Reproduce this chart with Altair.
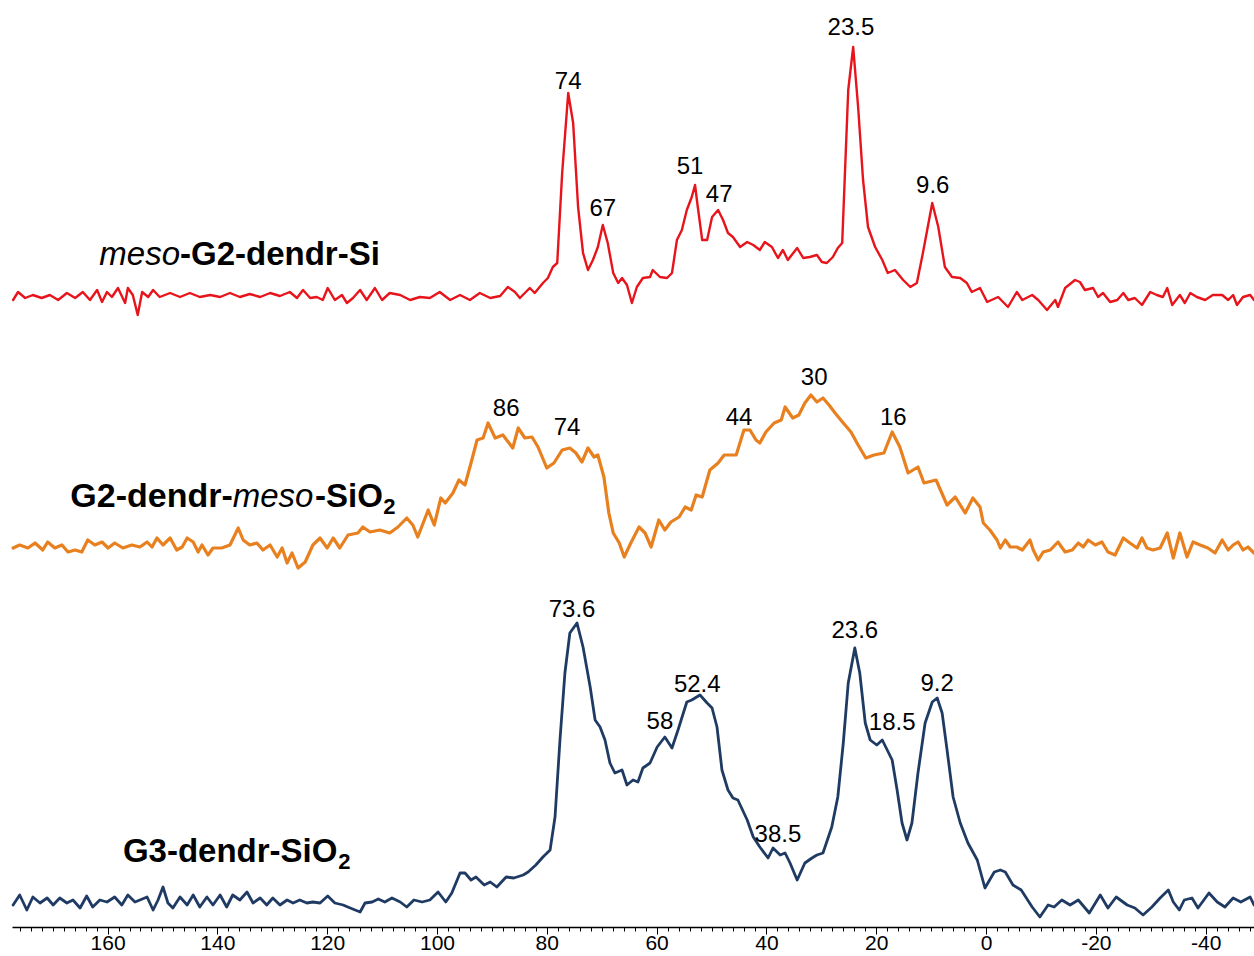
import altair as alt
import pandas as pd

# ---------------- data ----------------
# chemical shift (ppm) and intensity above each trace's own baseline (arb. units)

red_ppm = [
    177.2, 176.3, 175.0, 173.6, 172.0, 170.5, 169.0, 167.4, 165.9, 164.5,
    163.2, 161.9, 161.0, 160.1, 159.2, 158.1, 156.8, 156.3, 155.4, 154.5,
    153.7, 152.6, 151.7, 150.5, 148.6, 146.8, 145.0, 143.2, 141.3, 139.5,
    137.7, 135.9, 134.1, 132.2, 130.4, 128.6, 126.8, 125.5, 124.4, 123.1,
    121.9, 120.8, 119.9, 118.6, 117.3, 116.4, 115.3, 114.0, 112.8, 111.3,
    110.0, 108.6, 106.7, 104.9, 103.1, 101.3, 99.5, 97.6, 95.8, 94.0,
    92.2, 90.3, 88.5, 87.1, 85.8, 84.9, 83.1, 82.2, 80.7, 79.8,
    78.9, 78.1, 77.2, 76.1, 75.2, 74.3, 73.4, 72.5, 71.6, 70.7,
    69.8, 68.9, 67.9, 67.0, 66.3, 65.4, 64.5, 63.6, 62.5, 61.2,
    60.7, 59.4, 58.1, 57.2, 56.3, 55.4, 54.5, 53.6, 53.0, 52.5,
    51.7, 50.8, 49.9, 48.8, 47.9, 47.0, 46.1, 44.8, 43.5, 42.4,
    41.2, 40.3, 39.0, 37.9, 37.0, 36.1, 34.4, 33.3, 32.1, 30.8,
    29.9, 29.0, 27.9, 27.0, 26.2, 25.7, 25.1, 24.2, 23.3, 22.4,
    21.5, 20.2, 18.9, 17.9, 16.6, 15.1, 13.8, 12.6, 11.5, 9.8,
    8.7, 7.5, 6.2, 4.7, 3.5, 2.6, 1.1, -0.2, -2.2, -4.0,
    -5.6, -6.6, -8.4, -9.5, -11.1, -12.6, -13.1, -14.4, -16.2, -17.1,
    -18.0, -19.5, -20.4, -21.3, -22.6, -23.9, -25.0, -25.9, -27.1, -28.4,
    -29.9, -31.1, -32.2, -33.0, -33.9, -35.3, -36.2, -37.2, -38.4, -39.9,
    -41.3, -43.0, -44.1, -45.0, -45.7, -46.8, -48.1, -48.8,
]
red_int = [
    -3, 5, -1, 2, -1, 2, -3, 4, -1, 5,
    -3, 7, -5, 5, 0, 9, -6, 9, 2, -18,
    5, 0, 7, 0, 4, 0, 4, 0, 2, 0,
    4, 0, 3, 0, 4, 1, 5, -1, 7, -1,
    0, -3, 9, -3, 2, -6, -1, 7, -3, 9,
    -3, 4, 2, -3, 0, -1, 5, -3, 2, -3,
    4, -1, 1, 10, 5, -1, 9, 4, 14, 19,
    30, 34, 124, 204, 174, 90, 44, 27, 37, 50,
    72, 54, 24, 14, 19, 12, -6, 10, 19, 20,
    27, 20, 19, 24, 57, 67, 87, 100, 112, 90,
    57, 57, 80, 87, 77, 64, 60, 50, 55, 52,
    47, 55, 50, 39, 47, 37, 49, 39, 40, 42,
    35, 34, 40, 49, 54, 124, 207, 250, 190, 117,
    70, 50, 37, 24, 27, 17, 10, 14, 44, 94,
    70, 30, 20, 19, 14, 5, 9, -5, 0, -10,
    5, -3, 2, -3, -13, -3, -10, 9, 17, 15,
    7, 9, 0, 4, -5, -3, 4, -3, -1, -8,
    5, 2, 0, 9, -8, 2, -6, 4, 0, -3,
    2, 2, -3, 2, -8, 0, 2, -3,
]

orange_ppm = [
    177.2, 176.0, 174.5, 173.2, 171.8, 170.9, 169.6, 168.3, 167.2, 165.9,
    164.7, 163.6, 162.3, 161.0, 159.9, 158.7, 157.2, 155.6, 154.1, 152.8,
    151.9, 151.0, 149.9, 148.6, 147.4, 146.4, 145.5, 144.4, 143.5, 142.8,
    141.7, 140.8, 139.2, 137.7, 136.2, 135.3, 134.1, 132.8, 131.7, 130.4,
    129.1, 128.2, 127.3, 126.4, 125.3, 124.0, 122.6, 121.3, 120.0, 118.9,
    117.7, 116.2, 114.4, 113.5, 112.2, 110.4, 108.6, 107.1, 105.5, 104.4,
    103.5, 101.6, 100.5, 99.3, 98.5, 97.1, 96.0, 94.9, 93.8, 92.7,
    91.6, 90.7, 89.4, 88.0, 86.2, 85.2, 84.0, 82.7, 81.6, 80.0,
    78.7, 77.2, 75.8, 74.7, 73.6, 72.5, 71.4, 70.7, 69.6, 68.7,
    67.9, 66.8, 65.9, 64.7, 63.2, 62.1, 61.0, 59.6, 58.5, 57.4,
    55.9, 54.8, 53.7, 52.8, 51.7, 50.3, 48.8, 47.7, 45.5, 44.1,
    43.0, 41.9, 41.2, 40.1, 38.6, 37.3, 36.6, 35.2, 34.1, 33.0,
    31.9, 30.8, 29.7, 28.6, 27.5, 26.0, 24.6, 23.3, 21.9, 20.4,
    18.6, 17.1, 15.7, 14.2, 12.4, 11.3, 9.1, 7.1, 5.6, 3.8,
    2.4, 1.1, 0.5, -0.7, -2.0, -2.6, -3.5, -4.4, -5.6, -6.6,
    -8.0, -8.6, -9.5, -10.4, -11.7, -13.1, -14.4, -15.7, -16.8, -17.7,
    -18.6, -19.9, -21.1, -22.2, -23.5, -25.0, -26.2, -27.5, -28.4, -29.3,
    -30.4, -31.7, -33.0, -34.1, -35.3, -36.6, -37.7, -39.0, -40.4, -41.7,
    -43.0, -44.1, -45.0, -45.9, -46.8, -47.7, -48.8,
]
orange_int = [
    -3, 0, -3, 2, -5, 3, -3, 0, -7, -5,
    -7, 5, 0, 3, -3, 2, -3, 0, -2, 3,
    -2, 7, 0, 7, -5, -2, 7, 3, -7, 0,
    -10, -3, -3, 0, 17, 5, 0, 2, -5, 0,
    -12, -3, -18, -8, -23, -17, 0, 7, -3, 7,
    -3, 10, 12, 18, 13, 15, 12, 18, 27, 20,
    8, 35, 20, 47, 42, 52, 65, 60, 82, 105,
    107, 122, 107, 110, 97, 117, 107, 108, 98, 77,
    82, 95, 97, 92, 83, 97, 88, 90, 68, 32,
    12, 2, -12, 2, 18, 12, -2, 25, 15, 23,
    28, 38, 35, 50, 48, 75, 82, 90, 90, 115,
    115, 105, 102, 113, 122, 125, 138, 127, 130, 142,
    150, 143, 147, 140, 132, 122, 113, 100, 87, 90,
    92, 113, 98, 72, 78, 62, 65, 40, 48, 32,
    47, 38, 22, 15, 5, -3, 5, -2, -2, -5,
    5, -5, -15, -7, -5, 3, -7, -5, 2, -2,
    5, 0, 3, -7, -10, 7, 2, -3, 7, -3,
    -5, -3, 12, -13, 12, -12, 3, 0, -3, -8,
    5, -5, 0, 3, -5, -2, -8,
]

blue_ppm = [
    177.2, 176.0, 174.7, 173.6, 172.3, 171.0, 169.9, 168.7, 167.4, 166.3,
    165.0, 163.8, 162.7, 161.4, 160.1, 158.7, 157.4, 156.3, 155.0, 154.1,
    152.8, 151.7, 150.8, 149.9, 149.0, 148.1, 146.8, 145.5, 144.4, 143.2,
    141.9, 140.8, 139.5, 138.3, 137.2, 135.9, 134.6, 133.5, 132.2, 131.0,
    129.9, 128.6, 127.3, 126.2, 125.0, 123.7, 122.6, 121.3, 119.9, 118.6,
    117.1, 115.8, 114.0, 113.1, 111.8, 110.7, 109.5, 108.2, 106.7, 105.5,
    104.2, 102.7, 101.3, 99.8, 98.4, 97.3, 95.8, 94.9, 93.8, 92.9,
    91.4, 90.3, 89.1, 87.4, 86.0, 84.3, 83.4, 82.0, 80.7, 79.4,
    78.5, 77.6, 76.7, 75.8, 74.5, 73.4, 72.1, 71.2, 70.3, 69.4,
    68.5, 67.6, 66.3, 65.4, 64.3, 63.4, 62.5, 61.2, 59.9, 58.5,
    57.2, 56.1, 54.5, 53.6, 52.1, 50.8, 49.9, 49.0, 48.1, 47.0,
    46.1, 45.2, 43.5, 42.4, 41.2, 39.7, 38.8, 37.5, 36.6, 35.7,
    34.4, 33.0, 31.7, 30.8, 29.7, 28.1, 27.0, 26.0, 25.1, 23.9,
    23.0, 22.0, 21.1, 19.9, 18.9, 18.0, 17.1, 16.2, 15.3, 14.4,
    13.5, 12.4, 11.1, 9.8, 8.9, 8.0, 7.1, 6.0, 4.7, 3.3,
    1.6, 0.2, -1.5, -2.6, -3.5, -4.9, -6.4, -8.4, -9.8, -11.3,
    -12.4, -13.8, -15.3, -16.8, -18.8, -20.8, -22.2, -23.7, -25.7, -27.1,
    -28.6, -30.2, -31.7, -33.2, -34.1, -35.2, -36.1, -37.5, -38.6, -40.6,
    -42.1, -43.5, -45.0, -46.4, -48.1, -48.8,
]
blue_int = [
    -2, 8, -7, 6, 0, 5, -2, 5, 0, 3,
    -5, 7, -4, 3, 1, 6, -2, 8, 1, 3,
    6, -7, 3, 16, 0, -5, 6, -2, 8, -4,
    6, -2, 8, -4, 8, 3, 11, 0, 5, -2,
    5, -2, 3, 0, 3, 0, 1, 0, 7, 0,
    -2, -5, -9, 0, 1, 4, 1, 5, 1, -4,
    3, 1, 3, 11, 1, 10, 30, 30, 23, 26,
    18, 21, 16, 26, 25, 28, 31, 38, 46, 53,
    86, 163, 230, 270, 280, 256, 216, 183, 176, 163,
    140, 130, 133, 118, 123, 121, 135, 140, 156, 166,
    155, 173, 201, 203, 208, 200, 195, 176, 133, 113,
    105, 103, 83, 66, 56, 45, 55, 48, 50, 40,
    23, 40, 45, 48, 50, 76, 106, 160, 220, 255,
    230, 180, 163, 158, 163, 153, 143, 113, 80, 63,
    80, 130, 180, 201, 205, 190, 153, 106, 80, 60,
    43, 15, 31, 33, 31, 18, 13, -4, -14, -2,
    -4, 3, -2, 3, -10, 8, -5, 6, -2, -5,
    -12, -4, 5, 13, 1, -7, 3, 5, -5, 10,
    1, -4, 5, 1, 6, -2,
]

series_names = ["meso-G2-dendr-Si", "G2-dendr-meso-SiO2", "G3-dendr-SiO2"]
series_ppm = [red_ppm, orange_ppm, blue_ppm]
series_int = [red_int, orange_int, blue_int]

# peak annotations
peak_text = ["74", "67", "51", "47", "23.5", "9.6",
             "86", "74", "44", "30", "16",
             "73.6", "58", "52.4", "23.6", "18.5", "9.2", "38.5"]

# ---------------- layout / style ----------------
series_offsets = [630, 382, 24]          # vertical stacking of the three traces
series_colors = ["#e8141c", "#e8801f", "#1f3b63"]
series_widths = [2.4, 3.2, 2.8]

peak_ppm = [76.1, 69.8, 53.9, 48.6, 24.6, 9.7,
            87.4, 76.3, 45.0, 31.3, 16.9,
            75.4, 59.4, 52.6, 23.9, 17.1, 8.9, 37.9]
peak_y = [845, 718, 760, 732, 899, 741,
          518, 499, 509, 549, 509,
          317, 205, 242, 296, 204, 243, 92]

W, H = 1242, 927
FONT = "Liberation Sans"
x_scale = alt.Scale(domain=[-48.8, 177.4], reverse=True, nice=False, zero=False)
y_scale = alt.Scale(domain=[0, H], nice=False, zero=False)

x_axis = alt.Axis(
    values=list(range(-48, 177, 2)),
    labelExpr="datum.value % 20 === 0 ? '' + datum.value : ''",
    tickSize={"condition": {"test": "datum.value % 20 === 0", "value": 7}, "value": 4},
    tickColor="black",
    tickWidth=1,
    domainColor="black",
    domainWidth=1.6,
    labelFont=FONT,
    labelFontSize=21,
    labelColor="black",
    labelPadding=-2,
    labelOverlap=False,
    labelFlush=False,
    labelBound=False,
    grid=False,
    title=None,
)
X = alt.X("ppm:Q", scale=x_scale, axis=x_axis)
Y = alt.Y("y:Q", scale=y_scale, axis=None)

layers = []
for name, ppm, inten, off, col, sw in zip(series_names, series_ppm, series_int,
                                          series_offsets, series_colors, series_widths):
    assert len(ppm) == len(inten), name
    df = pd.DataFrame({"ppm": ppm, "y": [off + v for v in inten]})
    layers.append(
        alt.Chart(df).mark_line(color=col, strokeWidth=sw, strokeJoin="round", strokeCap="round")
        .encode(x=X, y=Y)
    )

peaks = pd.DataFrame({"ppm": peak_ppm, "y": peak_y, "t": peak_text})
layers.append(
    alt.Chart(peaks).mark_text(font=FONT, fontSize=24, color="black",
                               align="center", baseline="middle")
    .encode(x=X, y=Y, text="t:N")
)


def seg(texts, ppms, ys, align, weight, style, size):
    d = pd.DataFrame({"ppm": ppms, "y": ys, "t": texts})
    return (alt.Chart(d)
            .mark_text(font=FONT, fontSize=size, fontWeight=weight, fontStyle=style,
                       color="black", align=align, baseline="alphabetic")
            .encode(x=X, y=Y, text="t:N"))


# trace names (mixed italic / bold / subscript)
layers.append(seg(["meso"], [146.8], [662], "right", "normal", "italic", 33))
layers.append(seg(["-G2-dendr-Si"], [146.8], [662], "left", "bold", "normal", 33))
layers.append(seg(["G2-dendr-"], [137.2], [420], "right", "bold", "normal", 34))
layers.append(seg(["meso"], [137.2], [420], "left", "normal", "italic", 33))
layers.append(seg(["-SiO", "G3-dendr-SiO"], [122.2, 157.2], [420, 65], "left", "bold", "normal", 33))
layers.append(seg(["2", "2"], [109.8, 118.0], [413, 58], "left", "bold", "normal", 22))

chart = (
    alt.layer(*layers)
    .properties(width=W, height=H, background="white",
                padding={"left": 12, "top": 0, "right": 0, "bottom": 29},
                autosize=alt.AutoSizeParams(type="none"))
    .configure_view(stroke=None)
)

chart.save("out.html", embed_options={"renderer": "svg", "actions": False})
